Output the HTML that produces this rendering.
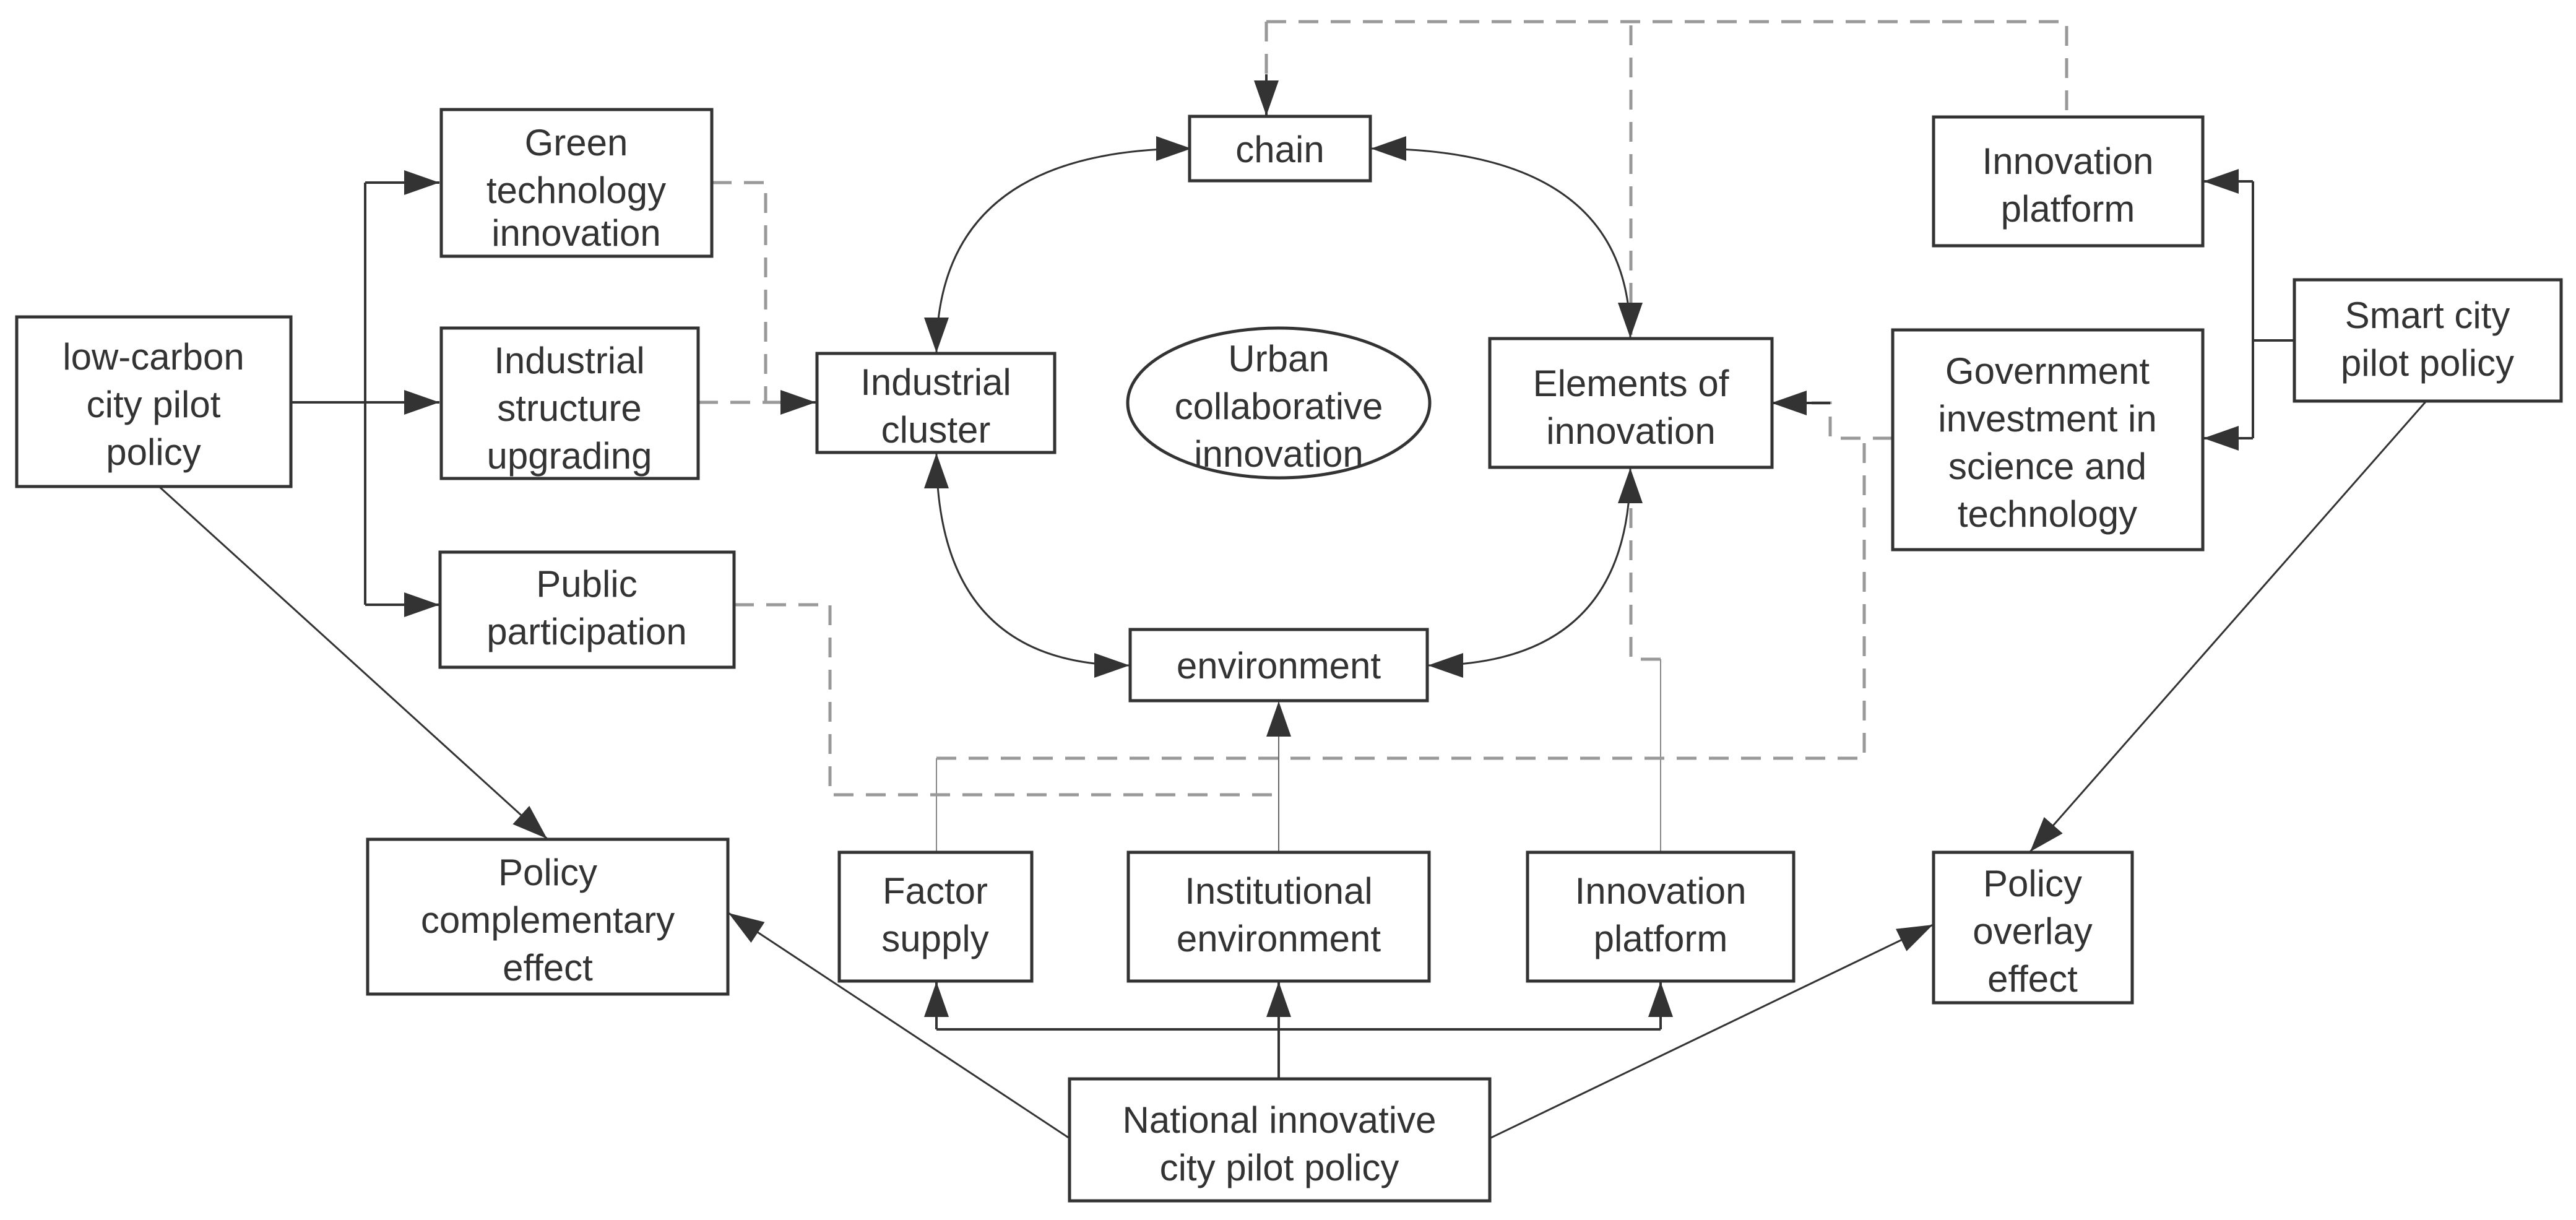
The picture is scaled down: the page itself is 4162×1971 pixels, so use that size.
<!DOCTYPE html>
<html><head><meta charset="utf-8"><style>
html,body{margin:0;padding:0;background:#fff}
svg{display:block}
text{font-family:"Liberation Sans",sans-serif;font-size:60px;fill:#333;text-anchor:middle}
</style></head><body>
<svg width="4162" height="1971" viewBox="0 0 4162 1971" xmlns="http://www.w3.org/2000/svg">
<defs>
<marker id="a" markerWidth="60" markerHeight="44" refX="57" refY="20" orient="auto" markerUnits="userSpaceOnUse">
<path d="M0,0 L57,20 L0,40 Z" fill="#333"/></marker>
<marker id="s" markerWidth="60" markerHeight="44" refX="57" refY="20" orient="auto-start-reverse" markerUnits="userSpaceOnUse">
<path d="M0,0 L57,20 L0,40 Z" fill="#333"/></marker>
</defs>
<g fill="none" stroke="#888" stroke-width="2">
<path d="M1513,1377 V1225"/>
<path d="M2683,1377 V1065"/>
</g>
<g fill="none" stroke="#999" stroke-width="5" stroke-dasharray="32,20">
<path d="M1150,295 H1237 V650"/>
<path d="M1128,650 H1262"/>
<path d="M1186,977 H1341 V1284 H2066"/>
<path d="M1513,1225 H3012 V708"/>
<path d="M3058,708 H2957 V651 H2920"/>
<path d="M2683,1065 H2635 V35"/>
<path d="M2046,35 H3339 V189"/>
<path d="M2046,35 V130"/>
</g>
<g fill="none" stroke="#333" stroke-width="4">
<path d="M1262,650 H1318" marker-end="url(#a)"/>
<path d="M2957,651 H2862" marker-end="url(#a)"/>
<path d="M2046,120 V187" marker-end="url(#a)"/>
<path d="M470,650 H590"/>
<path d="M590,295 V977"/>
<path d="M590,295 H710" marker-end="url(#a)"/>
<path d="M590,650 H710" marker-end="url(#a)"/>
<path d="M590,977 H710" marker-end="url(#a)"/>
<path d="M3707,550 H3640"/>
<path d="M3640,293 V708"/>
<path d="M3640,293 H3560" marker-end="url(#a)"/>
<path d="M3640,708 H3560" marker-end="url(#a)"/>
<path d="M1925,240 Q1513,240 1513,570" marker-start="url(#s)" marker-end="url(#a)" stroke-width="3"/>
<path d="M2215,240 Q2634,240 2634,546" marker-start="url(#s)" marker-end="url(#a)" stroke-width="3"/>
<path d="M1513,732 Q1513,1075 1825,1075" marker-start="url(#s)" marker-end="url(#a)" stroke-width="3"/>
<path d="M2634,756 Q2634,1075 2307,1075" marker-start="url(#s)" marker-end="url(#a)" stroke-width="3"/>
<path d="M2066,1377 V1133" marker-end="url(#a)" stroke="#666" stroke-width="2"/>
<path d="M257,786 L884,1355" marker-end="url(#a)" stroke-width="3"/>
<path d="M3920,648 L3280,1376" marker-end="url(#a)" stroke-width="3"/>
<path d="M1728,1839 L1177,1475" marker-end="url(#a)" stroke-width="3"/>
<path d="M2407,1839 L3123,1494" marker-end="url(#a)" stroke-width="3"/>
<path d="M2066,1743 V1663"/>
<path d="M1513,1663 H2683"/>
<path d="M1513,1663 V1586" marker-end="url(#a)"/>
<path d="M2066,1663 V1586" marker-end="url(#a)"/>
<path d="M2683,1663 V1586" marker-end="url(#a)"/>
</g>
<g fill="#fff" stroke="#333" stroke-width="5">
<rect x="27" y="512" width="443" height="274"/>
<rect x="713" y="177" width="437" height="237"/>
<rect x="713" y="530" width="415" height="243"/>
<rect x="711" y="892" width="475" height="186"/>
<rect x="1320" y="571" width="384" height="160"/>
<ellipse cx="2066" cy="651" rx="244" ry="121"/>
<rect x="1922" y="188" width="292" height="104"/>
<rect x="2407" y="547" width="456" height="208"/>
<rect x="3124" y="189" width="435" height="208"/>
<rect x="3058" y="533" width="501" height="355"/>
<rect x="3707" y="452" width="431" height="196"/>
<rect x="1826" y="1017" width="480" height="115"/>
<rect x="594" y="1356" width="582" height="250"/>
<rect x="1356" y="1377" width="311" height="208"/>
<rect x="1823" y="1377" width="486" height="208"/>
<rect x="2468" y="1377" width="430" height="208"/>
<rect x="3124" y="1377" width="321" height="243"/>
<rect x="1728" y="1743" width="679" height="197"/>
</g>
<text x="248" y="597">low-carbon</text><text x="248" y="674">city pilot</text><text x="248" y="751">policy</text>
<text x="931" y="251">Green</text><text x="931" y="328">technology</text><text x="931" y="397">innovation</text>
<text x="920" y="603">Industrial</text><text x="920" y="680">structure</text><text x="920" y="757">upgrading</text>
<text x="948" y="964">Public</text><text x="948" y="1041">participation</text>
<text x="1512" y="638">Industrial</text><text x="1512" y="715">cluster</text>
<text x="2066" y="600">Urban</text><text x="2066" y="677">collaborative</text><text x="2066" y="754">innovation</text>
<text x="2068" y="262">chain</text>
<text x="2635" y="640">Elements of</text><text x="2635" y="717">innovation</text>
<text x="3341" y="281">Innovation</text><text x="3341" y="358">platform</text>
<text x="3308" y="620">Government</text><text x="3308" y="697">investment in</text><text x="3308" y="774">science and</text><text x="3308" y="851">technology</text>
<text x="3922" y="530">Smart city</text><text x="3922" y="607">pilot policy</text>
<text x="2066" y="1096">environment</text>
<text x="885" y="1430">Policy</text><text x="885" y="1507">complementary</text><text x="885" y="1584">effect</text>
<text x="1511" y="1460">Factor</text><text x="1511" y="1537">supply</text>
<text x="2066" y="1460">Institutional</text><text x="2066" y="1537">environment</text>
<text x="2683" y="1460">Innovation</text><text x="2683" y="1537">platform</text>
<text x="3284" y="1448">Policy</text><text x="3284" y="1525">overlay</text><text x="3284" y="1602">effect</text>
<text x="2067" y="1830">National innovative</text><text x="2067" y="1907">city pilot policy</text>
</svg>
</body></html>
